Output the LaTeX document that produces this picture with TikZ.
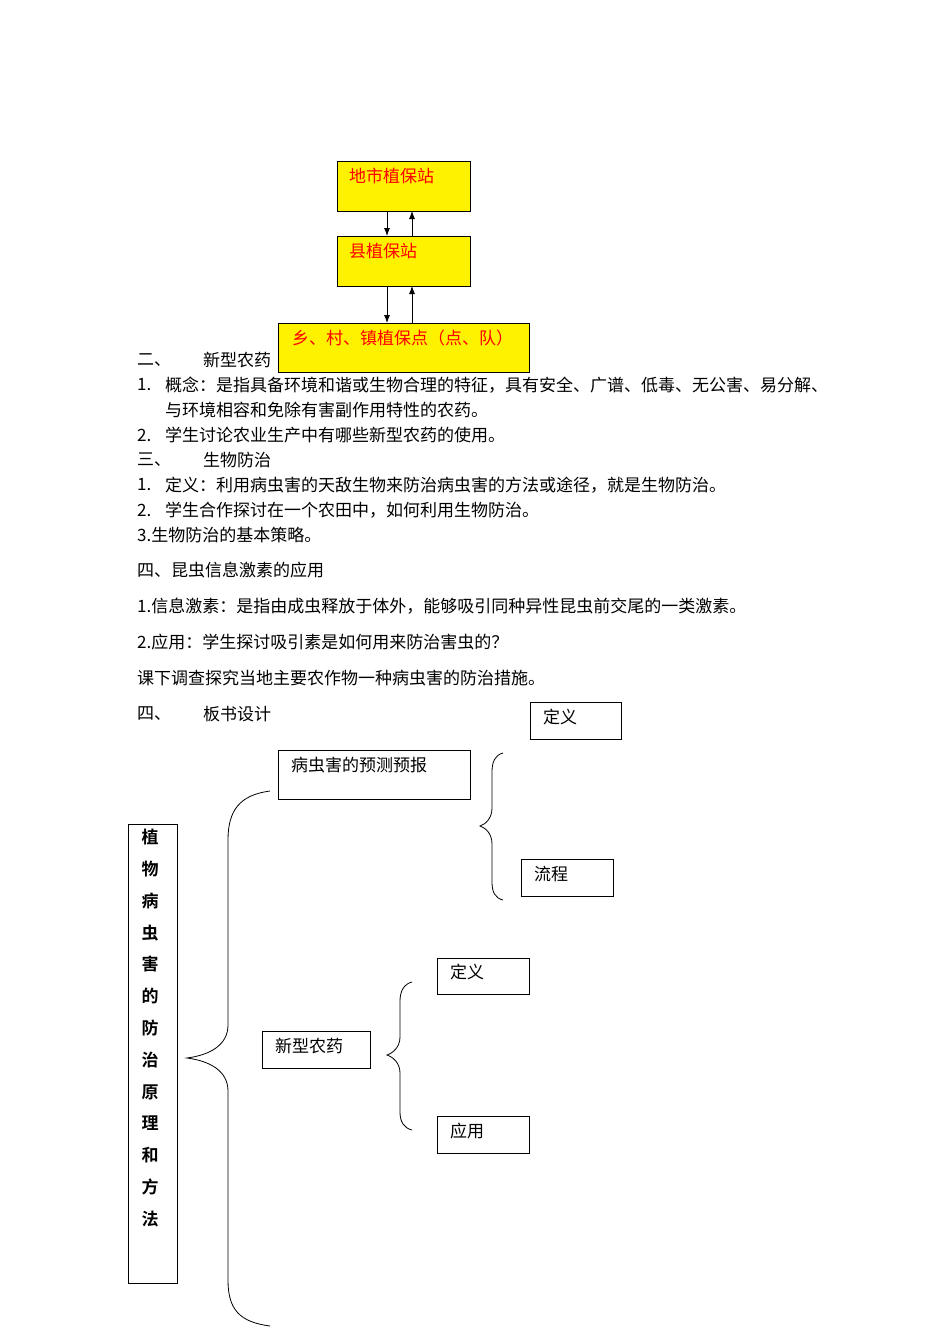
\documentclass[tikz,border=0pt]{standalone}
\usepackage{fontspec}
\newfontfamily\cjk{Noto Sans CJK SC}
\newfontfamily\cjkb{Noto Sans CJK SC Bold}
\usetikzlibrary{arrows.meta}
\begin{document}
\begin{tikzpicture}[x=1pt,y=-1pt,
  every node/.style={font=\cjk\fontsize{17}{18}\selectfont,inner sep=0pt},
  ybox/.style={draw,line width=1pt,fill=yellow},
  wbox/.style={draw,line width=0.8pt},
  lbl/.style={anchor=west},
  rlbl/.style={anchor=west,text=red},
  arr/.style={-{Latex[length=8pt,width=6pt]},line width=0.8pt},
  brace/.style={line width=0.8pt}]
\useasboundingbox (0,0) rectangle (950,1344);
% flow boxes
\draw[ybox] (337,161) rectangle (470,211);
\draw[ybox] (337,236) rectangle (470,286);
\draw[ybox] (278,323) rectangle (529,372);
\node[rlbl] (t1) at (349,176) {地市植保站};
\node[rlbl] (t2) at (349,251) {县植保站};
\node[rlbl] (t3) at (292,338) {乡、村、镇植保点（点、队）};
\coordinate (a1) at (387,211); \coordinate (a2) at (387,236);
\coordinate (b1) at (412,236); \coordinate (b2) at (412,211);
\draw[arr] (a1) -- (a2); \draw[arr] (b1) -- (b2);
\coordinate (c1) at (387,286); \coordinate (c2) at (387,323);
\coordinate (d1) at (412,323); \coordinate (d2) at (412,286);
\draw[arr] (c1) -- (c2); \draw[arr] (d1) -- (d2);
% text
\node[lbl] (l1a) at (137,360) {二、}; \node[lbl] (l1b) at (203,360) {新型农药};
\node[lbl] (l2a) at (137,385) {1.}; \node[lbl] (l2b) at (165,385) {概念：是指具备环境和谐或生物合理的特征，具有安全、广谱、低毒、无公害、易分解、};
\node[lbl] (l3) at (165,410) {与环境相容和免除有害副作用特性的农药。};
\node[lbl] (l4a) at (137,435) {2.}; \node[lbl] (l4b) at (165,435) {学生讨论农业生产中有哪些新型农药的使用。};
\node[lbl] (l5a) at (137,460) {三、}; \node[lbl] (l5b) at (203,460) {生物防治};
\node[lbl] (l6a) at (137,485) {1.}; \node[lbl] (l6b) at (165,485) {定义：利用病虫害的天敌生物来防治病虫害的方法或途径，就是生物防治。};
\node[lbl] (l7a) at (137,510) {2.}; \node[lbl] (l7b) at (165,510) {学生合作探讨在一个农田中，如何利用生物防治。};
\node[lbl] (l8) at (137,535) {3.生物防治的基本策略。};
\node[lbl] (l9) at (137,570) {四、昆虫信息激素的应用};
\node[lbl] (l10) at (137,606) {1.信息激素：是指由成虫释放于体外，能够吸引同种异性昆虫前交尾的一类激素。};
\node[lbl] (l11) at (137,642) {2.应用：学生探讨吸引素是如何用来防治害虫的？};
\node[lbl] (l12) at (137,678) {课下调查探究当地主要农作物一种病虫害的防治措施。};
\node[lbl] (l13a) at (137,714) {四、}; \node[lbl] (l13b) at (203,714) {板书设计};
% board boxes
\draw[wbox] (530,702) rectangle (621,739); \node[lbl] (e1) at (543,717) {定义};
\draw[wbox] (278,750) rectangle (470,799); \node[lbl] (e2) at (291,765) {病虫害的预测预报};
\draw[wbox] (521,859) rectangle (613,896); \node[lbl] (e3) at (534,874) {流程};
\draw[wbox] (437,958) rectangle (529,994); \node[lbl] (e4) at (450,972) {定义};
\draw[wbox] (262,1031) rectangle (370,1068); \node[lbl] (e5) at (275,1046) {新型农药};
\draw[wbox] (437,1116) rectangle (529,1153); \node[lbl] (e6) at (450,1131) {应用};
\draw[wbox] (128,824) rectangle (177,1283);
\node[font=\cjkb\fontsize{17}{31.8}\selectfont,align=center,anchor=north] (title) at (150,829)
 {植\\物\\病\\虫\\害\\的\\防\\治\\原\\理\\和\\方\\法};
% braces
\draw[brace] (270,791) .. controls (240,795) and (228,810) .. (228,840) -- (228,1025)
  .. controls (228,1045) and (210,1055) .. (187,1058)
  .. controls (210,1061) and (228,1071) .. (228,1091) -- (228,1280)
  .. controls (228,1310) and (240,1322) .. (270,1326);
\draw[brace] (503,753) .. controls (495,755) and (492,762) .. (492,772) -- (492,808)
  .. controls (492,818) and (486,824) .. (480,826)
  .. controls (486,828) and (492,834) .. (492,844) -- (492,882)
  .. controls (492,892) and (495,898) .. (503,900);
\draw[brace] (412,982) .. controls (404,984) and (400,991) .. (400,1001) -- (400,1037)
  .. controls (400,1047) and (393,1053) .. (387,1055)
  .. controls (393,1057) and (400,1063) .. (400,1073) -- (400,1112)
  .. controls (400,1122) and (404,1128) .. (412,1130);
\end{tikzpicture}
\end{document}
